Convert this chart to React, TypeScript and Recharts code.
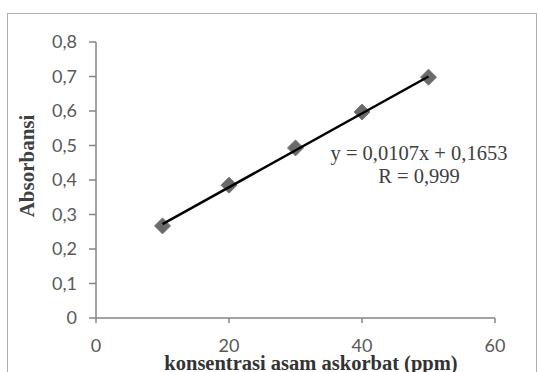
import { ScatterChart, Scatter, XAxis, YAxis } from "recharts";

const concentrations = [10, 20, 30, 40, 50];
const absorbances = [0.267, 0.385, 0.493, 0.597, 0.698];
const trendX = [10, 50];
const trendY = [0.272, 0.7];
const xTicks = [0, 20, 40, 60];
const yTicks = [0, 0.1, 0.2, 0.3, 0.4, 0.5, 0.6, 0.7, 0.8];
const equationText = "y = 0,0107x + 0,1653";
const rText = "R = 0,999";

const points = concentrations.map((x, i) => ({ x, y: absorbances[i] }));
const trend = trendX.map((x, i) => ({ x, y: trendY[i] }));

const tickStyle = { fontSize: 18, fill: "#595959", fontFamily: "Lato" };
const axisLine = { stroke: "#868686", strokeWidth: 1.5 };

function Diamond(props: any) {
  const { cx, cy } = props;
  const r = 8;
  return (
    <polygon
      points={`${cx},${cy - r} ${cx + r},${cy} ${cx},${cy + r} ${cx - r},${cy}`}
      fill="#6a6a6a"
      stroke="#777"
      strokeWidth={1}
    />
  );
}

export default function App() {
  return (
    <div style={{ position: "absolute", left: 0, top: 0, width: 538, height: 372, overflow: "hidden", background: "#fff" }}>
      <div style={{ position: "absolute", left: 7, top: 13, width: 528, height: 400, border: "1.5px solid #b0b0b0" }} />
      <div style={{ position: "absolute", left: 0, top: 0 }}>
        <ScatterChart width={538} height={372} margin={{ top: 42, right: 43, bottom: 0, left: 0 }}>
          <XAxis
            type="number"
            dataKey="x"
            domain={[0, 60]}
            ticks={xTicks}
            height={54}
            tickSize={5}
            tickMargin={16}
            tick={tickStyle}
            axisLine={axisLine}
            tickLine={axisLine}
          />
          <YAxis
            type="number"
            dataKey="y"
            domain={[0, 0.8]}
            ticks={yTicks}
            width={96}
            tickSize={7}
            tickMargin={12}
            tick={tickStyle}
            axisLine={axisLine}
            tickLine={axisLine}
            tickFormatter={(v: number) => (v === 0 ? "0" : v.toFixed(1).replace(".", ","))}
          />
          <Scatter data={points} shape={Diamond} isAnimationActive={false} />
          <Scatter
            data={trend}
            line={{ stroke: "#000", strokeWidth: 2.5 }}
            shape={() => <g />}
            isAnimationActive={false}
          />
          <text
            x={27}
            y={166}
            transform="rotate(-90 27 166)"
            textAnchor="middle"
            dominantBaseline="central"
            fontFamily="Liberation Serif"
            fontWeight="bold"
            fontSize={21}
            fill="#404040"
          >
            Absorbansi
          </text>
          <text x={311} y={370} textAnchor="middle" fontFamily="Liberation Serif" fontWeight="bold" fontSize={20.5} fill="#333">
            konsentrasi asam askorbat (ppm)
          </text>
          <text x={419} y={160} textAnchor="middle" fontFamily="Liberation Serif" fontSize={20.5} fill="#404040">
            {equationText}
          </text>
          <text x={419} y={183} textAnchor="middle" fontFamily="Liberation Serif" fontSize={20.5} fill="#404040">
            {rText}
          </text>
        </ScatterChart>
      </div>
    </div>
  );
}
